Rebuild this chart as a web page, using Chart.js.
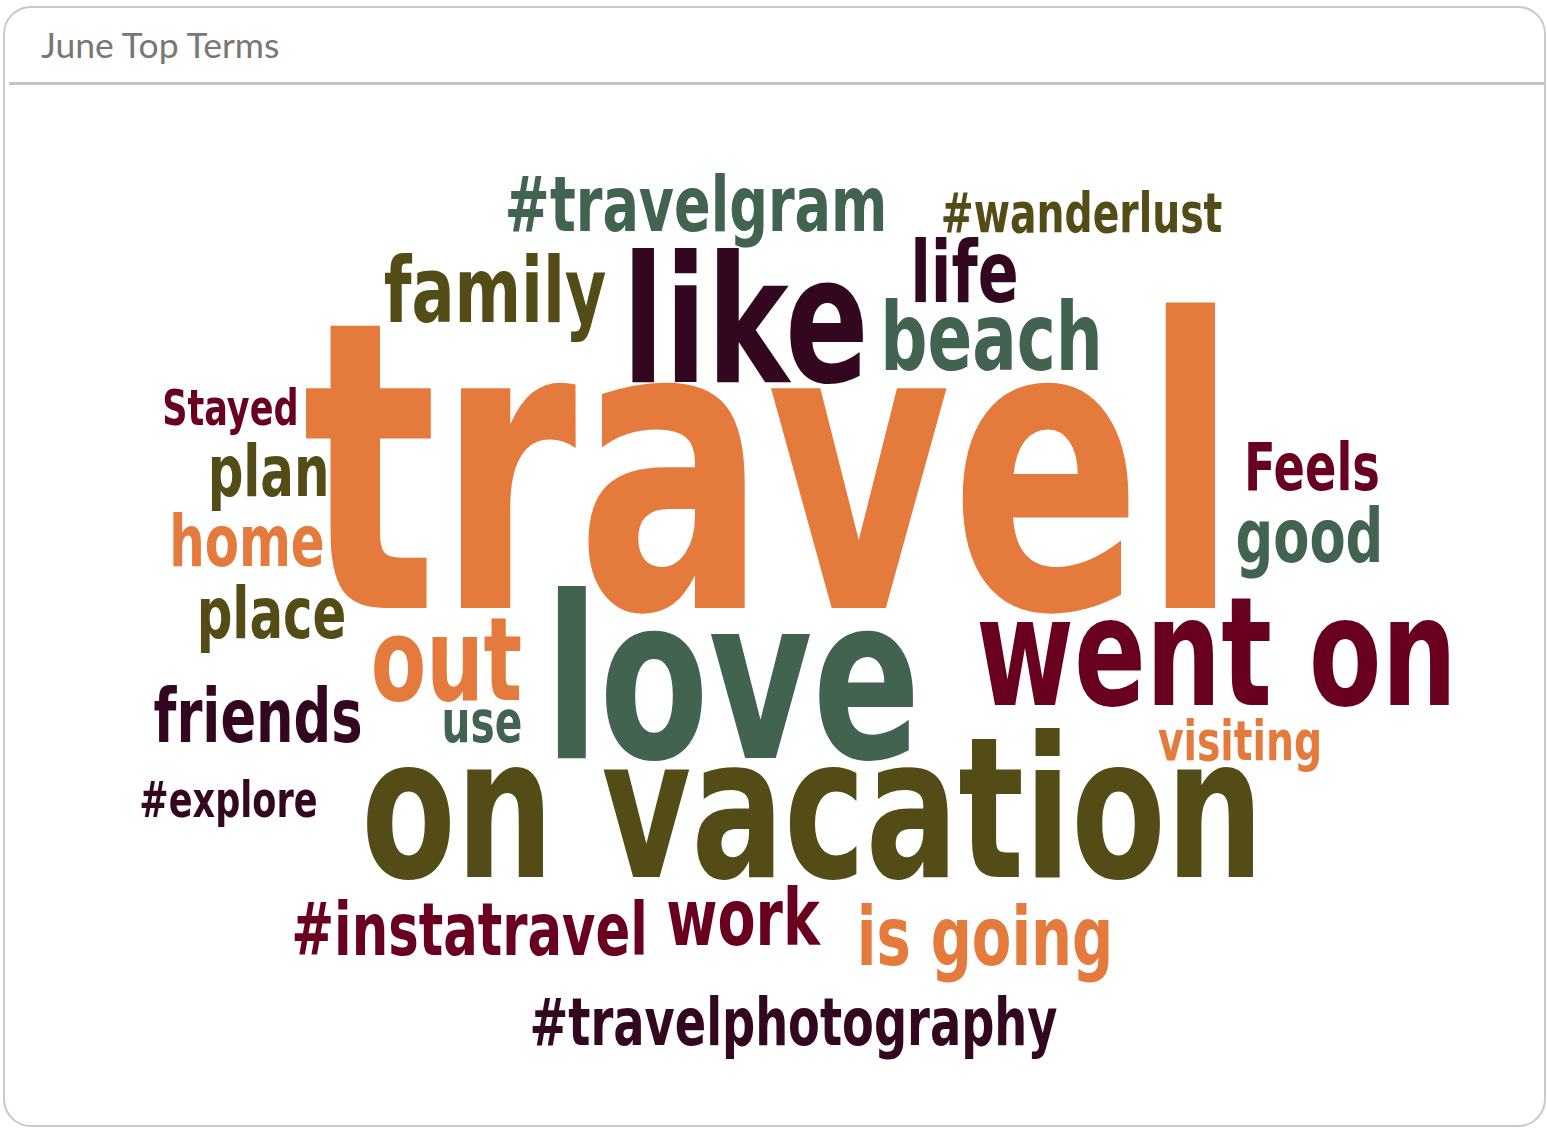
<!DOCTYPE html>
<html>
<head>
<meta charset="utf-8">
<title>June Top Terms</title>
<script src="https://cdn.jsdelivr.net/npm/chart.js@4.4.0/dist/chart.umd.min.js"></script>
<style>
  body { margin: 0; background: #fff; font-family: Lato, "Open Sans", sans-serif; }
  .card {
    position: absolute; left: 3px; top: 6px; width: 1539px; height: 1117px;
    border: 2px solid #c9c9c9; border-radius: 28px; overflow: hidden; background: #fff;
  }
  .card-header {
    height: 74px; margin-left: 4px; border-bottom: 3px solid #c4c4c4;
    box-sizing: content-box;
  }
  .card-header h2 {
    margin: 0; padding: 17px 0 0 32px; font-weight: 400; font-size: 35.5px; line-height: 40px;
    color: #777; font-family: Lato, sans-serif;
  }
  .chart-box { position: absolute; left: -2px; top: 77px; width: 1543px; height: 1042px; }
</style>
</head>
<body>
<div class="card">
  <div class="card-header"><h2>June Top Terms</h2></div>
  <div class="chart-box"><canvas id="cloudChart"></canvas></div>
</div>
<script>
// word cloud terms
const terms = ["travel", "on vacation", "love", "went on", "like", "beach", "family",
  "#travelgram", "#wanderlust", "life", "Stayed", "plan", "home", "place", "out",
  "friends", "use", "#explore", "Feels", "good", "visiting", "#instatravel", "work",
  "is going", "#travelphotography"];

// relative weight of each term (drives the text size)
const weights = [428, 209, 242, 161, 187, 100, 97, 82, 60, 92, 53, 75, 75, 75, 122,
  80, 62, 53, 70, 80, 60, 78, 84, 87, 70];

// layout of the cloud: word centre (x) and baseline (y), 0-100 units
const xPos = [49.74, 52.46, 47.28, 78.65, 48.12, 64.06, 31.89, 44.91, 69.90, 62.31,
  14.74, 17.21, 15.81, 17.40, 28.74, 16.53, 31.04, 14.61, 84.83, 84.67, 80.17,
  30.23, 47.96, 63.64, 51.23];
const yPos = [50.19, 76.01, 64.59, 59.50, 28.50, 27.35, 22.74, 14.01, 14.11, 20.83,
  32.63, 39.44, 46.16, 53.07, 59.02, 63.05, 63.05, 70.25, 38.87, 45.78, 64.78,
  83.49, 82.53, 84.45, 92.13];

const palette = ["#e57a3d", "#544c16", "#41634f", "#6a0020", "#33071f", "#41634f", "#544c16",
  "#41634f", "#544c16", "#33071f", "#6a0020", "#544c16", "#e57a3d", "#544c16", "#e57a3d",
  "#33071f", "#41634f", "#33071f", "#6a0020", "#41634f", "#e57a3d", "#6a0020", "#6a0020",
  "#e57a3d", "#33071f"];

const fontStack = '"DejaVu Sans Condensed", "Liberation Sans", sans-serif';
const sizeScale = 0.94;   // font metrics fix
const squeeze = 0.78;     // horizontal narrowing of the glyphs

// draws each term at the point the scales give us
const wordPlugin = {
  id: "wordCloud",
  afterDatasetsDraw(chart) {
    const ctx = chart.ctx;
    const meta = chart.getDatasetMeta(0);
    const k = chart.chartArea.height / 1042;
    ctx.save();
    ctx.textAlign = "center";
    ctx.textBaseline = "alphabetic";
    meta.data.forEach((pt, i) => {
      ctx.save();
      ctx.font = "bold " + Math.round(weights[i] * k * sizeScale) + "px " + fontStack;
      ctx.fillStyle = palette[i];
      ctx.translate(pt.x, pt.y);
      ctx.scale(squeeze, 1);
      ctx.fillText(terms[i], 0, 0);
      ctx.restore();
    });
    ctx.restore();
  }
};

const points = terms.map((t, i) => ({ x: xPos[i], y: yPos[i] }));

const cloudCtx = document.getElementById("cloudChart").getContext("2d");
const cloudChart = new Chart(cloudCtx, {
  type: "scatter",
  data: {
    labels: terms,
    datasets: [{ label: "Top Terms", data: points, pointRadius: 0, pointHoverRadius: 0 }],
  },
  options: {
    responsive: true,
    maintainAspectRatio: false,
    animation: false,
    layout: { padding: 0 },
    plugins: { legend: { display: false }, tooltip: { enabled: false } },
    scales: {
      x: { type: "linear", min: 0, max: 100, display: false },
      y: { type: "linear", min: 0, max: 100, reverse: true, display: false },
    },
  },
  plugins: [wordPlugin],
});
</script>
</body>
</html>
